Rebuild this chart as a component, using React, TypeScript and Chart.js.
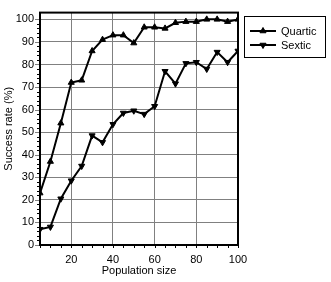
import { useEffect, useRef } from "react";
import { Chart, registerables } from "chart.js";

Chart.register(...registerables);

const populationSizes = [5, 10, 15, 20, 25, 30, 35, 40, 45, 50, 55, 60, 65, 70, 75, 80, 85, 90, 95, 100];
const quartic = [23, 37, 54, 72, 73, 86, 91, 93, 93, 89.5, 96.5, 96.5, 96, 98.5, 99, 99, 100, 100, 99, 100];
const sextic = [7, 8, 20.5, 28.5, 35, 48.5, 45.5, 53.5, 58.5, 59.5, 58, 61.5, 77, 71.5, 80.5, 81, 78, 85.5, 81, 86];
const seriesNames = ["Quartic", "Sextic"];
const xTickValues = [20, 40, 60, 80, 100];
const yTickValues = [0, 10, 20, 30, 40, 50, 60, 70, 80, 90, 100];
const xTitle = "Population size";
const yTitle = "Success rate (%)";

const FONT = "Liberation Sans, Arial, sans-serif";

function tri(ctx: CanvasRenderingContext2D, x: number, y: number, r: number, down: boolean) {
  const s = down ? -1 : 1;
  ctx.beginPath();
  ctx.moveTo(x, y - s * r);
  ctx.lineTo(x + r * 0.866, y + s * r * 0.5);
  ctx.lineTo(x - r * 0.866, y + s * r * 0.5);
  ctx.closePath();
  ctx.fill();
  ctx.stroke();
}

const framePlugin = {
  id: "frame",
  afterDraw(chart: any) {
    const { ctx, chartArea } = chart;
    const { left, right, top, bottom } = chartArea;
    const xs = chart.scales.x;
    const ys = chart.scales.y;
    ctx.save();
    // minor y ticks
    ctx.strokeStyle = "#000";
    ctx.lineWidth = 1;
    for (let v = 0; v <= 100; v += 2) {
      const y = Math.round(ys.getPixelForValue(v)) + 0.5;
      ctx.beginPath();
      ctx.moveTo(left - 3, y);
      ctx.lineTo(left, y);
      ctx.stroke();
    }
    // major y ticks (grid extension)
    ctx.strokeStyle = "#808080";
    for (const v of yTickValues) {
      const y = Math.round(ys.getPixelForValue(v)) + 0.5;
      ctx.beginPath();
      ctx.moveTo(left - 5, y);
      ctx.lineTo(left, y);
      ctx.stroke();
    }
    // minor x ticks
    ctx.strokeStyle = "#000";
    for (let v = 5; v <= 100; v += 5) {
      const x = Math.round(xs.getPixelForValue(v)) + 0.5;
      ctx.beginPath();
      ctx.moveTo(x, bottom);
      ctx.lineTo(x, bottom + 3);
      ctx.stroke();
    }
    // frame
    ctx.strokeStyle = "#000";
    ctx.lineWidth = 2;
    ctx.strokeRect(left, top, right - left, bottom - top);

    // legend
    ctx.lineWidth = 1;
    ctx.fillStyle = "#fff";
    ctx.fillRect(244.5, 16.5, 81, 41);
    ctx.strokeStyle = "#000";
    ctx.strokeRect(244.5, 16.5, 81, 41);
    const rows = [31, 45];
    ctx.font = `11px ${FONT}`;
    ctx.textBaseline = "middle";
    ctx.textAlign = "left";
    rows.forEach((ry, i) => {
      ctx.strokeStyle = "#000";
      ctx.lineWidth = 2;
      ctx.beginPath();
      ctx.moveTo(250, ry);
      ctx.lineTo(276, ry);
      ctx.stroke();
      ctx.lineWidth = 1;
      ctx.fillStyle = "#000";
      tri(ctx, 263, ry, 3.5, i === 1);
      ctx.fillStyle = "#000";
      ctx.fillText(seriesNames[i], 281, ry + 0.5);
    });
    ctx.restore();
  },
};

export default function App() {
  const ref = useRef<HTMLCanvasElement>(null);
  useEffect(() => {
    if (!ref.current) return;
    const chart = new Chart(ref.current, {
      type: "line",
      data: {
        datasets: [
          {
            label: seriesNames[0],
            data: populationSizes.map((x, i) => ({ x, y: quartic[i] })),
            borderColor: "#000",
            backgroundColor: "#000",
            borderWidth: 2,
            pointStyle: "triangle",
            pointRadius: 3.5,
            pointBorderWidth: 1,
            pointBackgroundColor: "#000",
            pointBorderColor: "#000",
            tension: 0,
          },
          {
            label: seriesNames[1],
            data: populationSizes.map((x, i) => ({ x, y: sextic[i] })),
            borderColor: "#000",
            backgroundColor: "#000",
            borderWidth: 2,
            pointStyle: "triangle",
            rotation: 180,
            pointRadius: 3.5,
            pointBorderWidth: 1,
            pointBackgroundColor: "#000",
            pointBorderColor: "#000",
            tension: 0,
          } as any,
        ],
      },
      options: {
        animation: false,
        responsive: false,
        devicePixelRatio: 1,
        layout: { padding: { left: 0, top: 3, right: 93, bottom: 0 } },
        plugins: { legend: { display: false }, tooltip: { enabled: false } },
        scales: {
          x: {
            type: "linear",
            min: 5,
            max: 100,
            afterBuildTicks: (s: any) => {
              s.ticks = xTickValues.map((v) => ({ value: v }));
            },
            afterFit: (s: any) => {
              s.height = 37;
            },
            border: { display: false },
            grid: { color: "#808080", lineWidth: 1, drawTicks: false },
            ticks: { color: "#000", font: { family: FONT, size: 11 }, padding: 8, maxRotation: 0 },
            title: {
              display: true,
              text: xTitle,
              color: "#000",
              font: { family: FONT, size: 11 },
              padding: { top: 0, bottom: 4.4 },
            },
          },
          y: {
            type: "linear",
            min: 0,
            max: 103,
            afterBuildTicks: (s: any) => {
              s.ticks = yTickValues.map((v) => ({ value: v }));
            },
            afterFit: (s: any) => {
              s.width = 40;
            },
            border: { display: false },
            grid: { color: "#808080", lineWidth: 1, drawTicks: false },
            ticks: { color: "#000", font: { family: FONT, size: 11 }, padding: 6 },
            title: {
              display: true,
              text: yTitle,
              color: "#000",
              font: { family: FONT, size: 11 },
              padding: { top: 2.4, bottom: 0 },
            },
          },
        },
      },
      plugins: [framePlugin],
    });
    return () => chart.destroy();
  }, []);
  return (
    <div style={{ position: "fixed", left: 0, top: 0, width: 331, height: 282, background: "#fff" }}>
      <canvas ref={ref} width={331} height={282} />
    </div>
  );
}
